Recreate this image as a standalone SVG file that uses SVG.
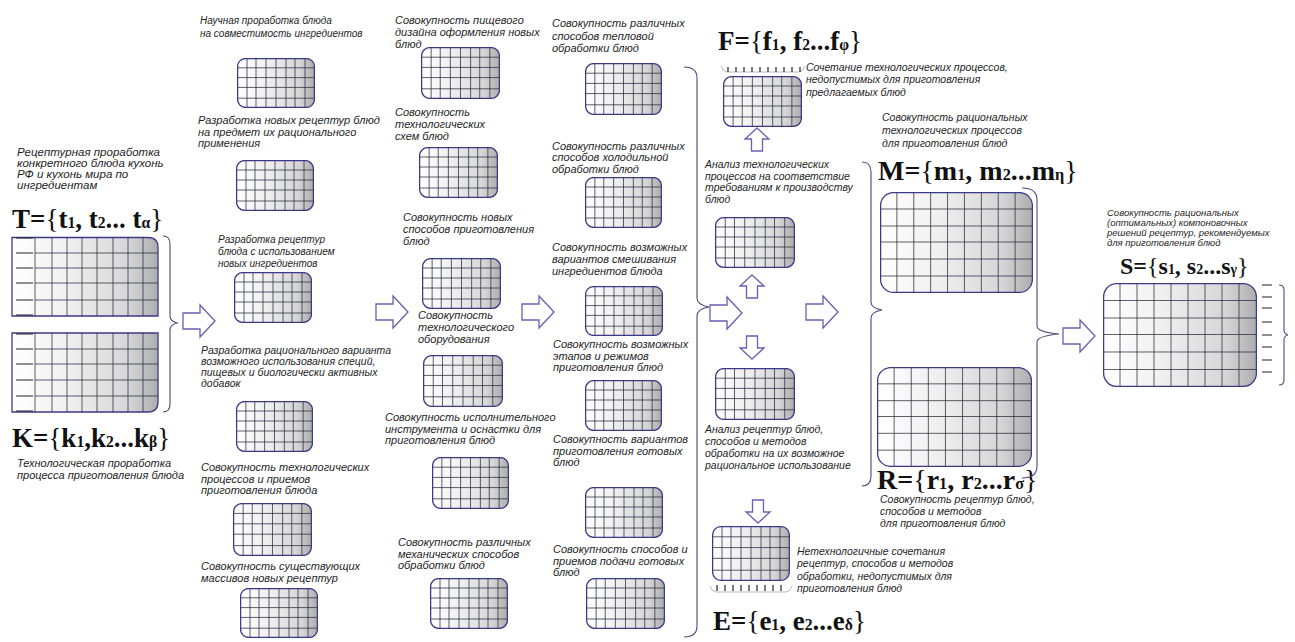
<svg xmlns="http://www.w3.org/2000/svg" xmlns:xlink="http://www.w3.org/1999/xlink" width="1295" height="642" viewBox="0 0 1295 642">
<style>
.t{font-family:"Liberation Sans",Arial,sans-serif;font-style:italic;fill:#1e1e1e;}
.f{font-family:"Liberation Serif","Times New Roman",serif;font-weight:bold;fill:#111;}
.s{font-size:58%;}
.br{font-weight:normal;}
.bd{fill:url(#gr);stroke:#3b3a8a;stroke-width:1.3;}
.gl{stroke:#2a2a3c;stroke-width:0.75;fill:none;}
.ar{fill:#fff;stroke:#6a5fb5;stroke-width:1.3;}
.bc{fill:none;stroke:#4b4b7d;stroke-width:1.1;}
.tk{stroke:#222;stroke-width:1.2;}
.dl{stroke:#9a9aaa;stroke-width:0.7;fill:none;}
</style>
<defs>
<linearGradient id="gr" x1="0" y1="0" x2="1" y2="0">
<stop offset="0" stop-color="#ffffff"/>
<stop offset="0.4" stop-color="#efefef"/>
<stop offset="0.8" stop-color="#d6d6d6"/>
<stop offset="1" stop-color="#adadad"/>
</linearGradient>
<symbol id="sb" viewBox="0 0 78 51" preserveAspectRatio="none">
<rect x="0.6" y="0.6" width="76.8" height="49.8" rx="8" class="bd" vector-effect="non-scaling-stroke"/>
<path class="gl" vector-effect="non-scaling-stroke" d="M10,1V50M19,1V50M29,1V50M39,1V50M49,1V50M58,1V50M68,1V50M1,10H77M1,20H77M1,30H77M1,41H77"/>
</symbol>
<symbol id="bb" viewBox="0 0 154 101" preserveAspectRatio="none">
<rect x="0.6" y="0.6" width="152.8" height="99.8" rx="13" class="bd" vector-effect="non-scaling-stroke"/>
<path class="gl" vector-effect="non-scaling-stroke" d="M17,1V100M34,1V100M51,1V100M68,1V100M85,1V100M102,1V100M119,1V100M136,1V100M1,17H153M1,34H153M1,50H153M1,67H153M1,84H153"/>
</symbol>
<path id="ra" d="M0,-8 H17 V-16 L32,0 L17,16 V8 H0 Z"/>
<path id="ua" d="M0,0 L12,11 H5.5 V23 H-5.5 V11 H-12 Z"/>
<path id="da" d="M0,0 L12,-11 H5.5 V-23 H-5.5 V-11 H-12 Z"/>
<clipPath id="cT"><path d="M12,237.5 H148 Q158,237.5 158,247.5 V316 H12 Z"/></clipPath>
<clipPath id="cK"><path d="M12,333 H158 V402 Q158,412 148,412 H12 Z"/></clipPath>
</defs>
<rect width="1295" height="642" fill="#fff"/>

<g id="node-T">
<text class="t" font-size="11.5"><tspan x="17" y="156">Рецептурная проработка</tspan><tspan x="17" y="167">конкретного блюда кухонь</tspan><tspan x="17" y="178">РФ и кухонь мира по</tspan><tspan x="17" y="189">ингредиентам</tspan></text>
<text class="f" font-size="27" x="12" y="228">T=<tspan class="br">{</tspan>t<tspan class="s">1</tspan>, t<tspan class="s">2</tspan>... t<tspan class="s">α</tspan><tspan class="br">}</tspan></text>
<path d="M12,237.5 H148 Q158,237.5 158,247.5 V316 H12 Z" class="bd"/>
<g clip-path="url(#cT)"><path class="gl" d="M35,237V316M52,237V316M67,237V316M82,237V316M97,237V316M113,237V316M128,237V316M143,237V316M35,253H158M35,268H158M35,283H158M35,300H158"/></g>
<path class="tk" d="M16,238H33M16,253H33M16,268H33M16,283H33M16,300H33M16,315H33"/>
</g>

<g id="node-K">
<path d="M12,333 H158 V402 Q158,412 148,412 H12 Z" class="bd"/>
<g clip-path="url(#cK)"><path class="gl" d="M35,333V412M52,333V412M67,333V412M82,333V412M97,333V412M113,333V412M128,333V412M143,333V412M35,349H158M35,364H158M35,380H158M35,396H158"/></g>
<path class="tk" d="M16,334H33M16,349H33M16,364H33M16,380H33M16,396H33M16,411H33"/>
<text class="f" font-size="27" x="12" y="447">K=<tspan class="br">{</tspan>k<tspan class="s">1</tspan>,k<tspan class="s">2</tspan>...k<tspan class="s">β</tspan><tspan class="br">}</tspan></text>
<text class="t" font-size="11"><tspan x="17" y="467">Технологическая проработка</tspan><tspan x="17" y="479">процесса приготовления блюда</tspan></text>
</g>

<g id="node-c2-1"><text class="t" font-size="10"><tspan x="200" y="24">Научная проработка блюда</tspan><tspan x="200" y="37">на совместимость ингредиентов</tspan></text><use href="#sb" x="237" y="58" width="78" height="50"/></g>
<g id="node-c2-2"><text class="t" font-size="11"><tspan x="198" y="124">Разработка новых рецептур блюд</tspan><tspan x="198" y="136">на предмет их рационального</tspan><tspan x="198" y="147">применения</tspan></text><use href="#sb" x="236" y="160" width="78" height="51"/></g>
<g id="node-c2-3"><text class="t" font-size="10"><tspan x="218" y="243">Разработка рецептур</tspan><tspan x="218" y="255">блюда с использованием</tspan><tspan x="218" y="267">новых ингредиентов</tspan></text><use href="#sb" x="234" y="272" width="78" height="51"/></g>
<g id="node-c2-4"><text class="t" font-size="10.5"><tspan x="201" y="354">Разработка рационального варианта</tspan><tspan x="201" y="365">возможного использования специй,</tspan><tspan x="201" y="376">пищевых и биологически активных</tspan><tspan x="201" y="387">добавок</tspan></text><use href="#sb" x="236" y="401" width="77" height="51"/></g>
<g id="node-c2-5"><text class="t" font-size="11"><tspan x="201" y="471">Совокупность технологических</tspan><tspan x="201" y="483">процессов и приемов</tspan><tspan x="201" y="494">приготовления блюда</tspan></text><use href="#sb" x="233" y="503" width="79" height="53"/></g>
<g id="node-c2-6"><text class="t" font-size="11"><tspan x="201" y="570">Совокупность существующих</tspan><tspan x="201" y="582">массивов новых рецептур</tspan></text><use href="#sb" x="240" y="588" width="78" height="50"/></g>

<g id="node-c3-1"><text class="t" font-size="11"><tspan x="395" y="24">Совокупность пищевого</tspan><tspan x="395" y="36">дизайна оформления новых</tspan><tspan x="395" y="48">блюд</tspan></text><use href="#sb" x="421" y="47" width="79" height="52"/></g>
<g id="node-c3-2"><text class="t" font-size="11"><tspan x="395" y="116">Совокупность</tspan><tspan x="395" y="128">технологических</tspan><tspan x="395" y="140">схем блюд</tspan></text><use href="#sb" x="419" y="147" width="79" height="51"/></g>
<g id="node-c3-3"><text class="t" font-size="11"><tspan x="403" y="221">Совокупность новых</tspan><tspan x="403" y="233">способов приготовления</tspan><tspan x="403" y="245">блюд</tspan></text><use href="#sb" x="422" y="258" width="79" height="51"/></g>
<g id="node-c3-4"><text class="t" font-size="11"><tspan x="418" y="319">Совокупность</tspan><tspan x="418" y="331">технологического</tspan><tspan x="418" y="343">оборудования</tspan></text><use href="#sb" x="423" y="355" width="80" height="52"/></g>
<g id="node-c3-5"><text class="t" font-size="11"><tspan x="385" y="421">Совокупность исполнительного</tspan><tspan x="385" y="433">инструмента и оснастки для</tspan><tspan x="385" y="444">приготовления блюд</tspan></text><use href="#sb" x="432" y="457" width="77" height="52"/></g>
<g id="node-c3-6"><text class="t" font-size="11"><tspan x="398" y="546">Совокупность различных</tspan><tspan x="398" y="558">механических способов</tspan><tspan x="398" y="569">обработки блюд</tspan></text><use href="#sb" x="430" y="578" width="78" height="51"/></g>

<g id="node-c4-1"><text class="t" font-size="11"><tspan x="552" y="27">Совокупность различных</tspan><tspan x="552" y="40">способов тепловой</tspan><tspan x="552" y="52">обработки блюд</tspan></text><use href="#sb" x="585" y="63" width="77" height="52"/></g>
<g id="node-c4-2"><text class="t" font-size="11"><tspan x="552" y="150">Совокупность различных</tspan><tspan x="552" y="161">способов холодильной</tspan><tspan x="552" y="173">обработки блюд</tspan></text><use href="#sb" x="585" y="177" width="77" height="51"/></g>
<g id="node-c4-3"><text class="t" font-size="11"><tspan x="552" y="251">Совокупность возможных</tspan><tspan x="552" y="263">вариантов смешивания</tspan><tspan x="552" y="275">ингредиентов блюда</tspan></text><use href="#sb" x="585" y="286" width="78" height="50"/></g>
<g id="node-c4-4"><text class="t" font-size="11"><tspan x="553" y="348">Совокупность возможных</tspan><tspan x="553" y="360">этапов  и режимов</tspan><tspan x="553" y="371">приготовления блюд</tspan></text><use href="#sb" x="585" y="380" width="77" height="51"/></g>
<g id="node-c4-5"><text class="t" font-size="11"><tspan x="553" y="443">Совокупность вариантов</tspan><tspan x="553" y="455">приготовления готовых</tspan><tspan x="553" y="466">блюд</tspan></text><use href="#sb" x="585" y="487" width="78" height="51"/></g>
<g id="node-c4-6"><text class="t" font-size="11"><tspan x="553" y="553">Совокупность способов и</tspan><tspan x="553" y="565">приемов подачи готовых</tspan><tspan x="553" y="576">блюд</tspan></text><use href="#sb" x="586" y="578" width="79" height="51"/></g>

<g id="node-F">
<text class="f" font-size="27" x="718" y="50">F=<tspan class="br">{</tspan>f<tspan class="s">1</tspan>, f<tspan class="s">2</tspan>...f<tspan class="s">φ</tspan><tspan class="br">}</tspan></text>
<path class="dl" d="M721,66 Q723,72 727,72 H799 Q803,72 805,66"/>
<path class="tk" stroke-width="1" d="M728,67V72M736,67V72M744,67V72M752,67V72M760,67V72M768,67V72M776,67V72M784,67V72M792,67V72M800,67V72"/>
<text class="t" font-size="10.5"><tspan x="806" y="71">Сочетание технологических процессов,</tspan><tspan x="806" y="83">недопустимых для приготовления</tspan><tspan x="806" y="96">предлагаемых блюд</tspan></text>
<use href="#sb" x="723" y="76" width="79" height="51"/>
</g>
<g id="node-A1">
<text class="t" font-size="10.5"><tspan x="705" y="168">Анализ технологических</tspan><tspan x="705" y="180">процессов на соответствие</tspan><tspan x="705" y="191">требованиям к производству</tspan><tspan x="705" y="203">блюд</tspan></text>
<use href="#sb" x="715" y="217" width="80" height="51"/>
</g>
<g id="node-A2">
<use href="#sb" x="715" y="368" width="80" height="52"/>
<text class="t" font-size="10.5"><tspan x="705" y="433">Анализ рецептур блюд,</tspan><tspan x="705" y="445">способов и методов</tspan><tspan x="705" y="457">обработки на их возможное</tspan><tspan x="705" y="469">рациональное использование</tspan></text>
</g>
<g id="node-E">
<use href="#sb" x="712" y="526" width="78" height="55"/>
<path class="tk" stroke-width="1" d="M717,585V591M725,585V591M733,585V591M741,585V591M749,585V591M757,585V591M765,585V591M773,585V591M781,585V591"/>
<path class="dl" d="M710,586 Q712,592 716,592 H786 Q790,592 792,586"/>
<text class="t" font-size="10.5"><tspan x="797" y="555">Нетехнологичные сочетания</tspan><tspan x="797" y="567">рецептур, способов и методов</tspan><tspan x="797" y="580">обработки, недопустимых для</tspan><tspan x="797" y="592">приготовления блюд</tspan></text>
<text class="f" font-size="27" x="713" y="630">E=<tspan class="br">{</tspan>e<tspan class="s">1</tspan>, e<tspan class="s">2</tspan>...e<tspan class="s">δ</tspan><tspan class="br">}</tspan></text>
</g>

<g id="node-M">
<text class="t" font-size="10.5"><tspan x="882" y="121">Совокупность рациональных</tspan><tspan x="882" y="134">технологических процессов</tspan><tspan x="882" y="147">для приготовления блюд</tspan></text>
<text class="f" font-size="28" x="878" y="180">M=<tspan class="br">{</tspan>m<tspan class="s">1</tspan>, m<tspan class="s">2</tspan>...m<tspan class="s">η</tspan><tspan class="br">}</tspan></text>
<use href="#bb" x="880" y="192" width="153" height="101"/>
</g>
<g id="node-R">
<use href="#bb" x="877" y="367" width="155" height="100"/>
<text class="f" font-size="28" x="877" y="489">R=<tspan class="br">{</tspan>r<tspan class="s">1</tspan>, r<tspan class="s">2</tspan>...r<tspan class="s">σ</tspan><tspan class="br">}</tspan></text>
<text class="t" font-size="10.5"><tspan x="880" y="503">Совокупность рецептур блюд,</tspan><tspan x="880" y="515">способов и методов</tspan><tspan x="880" y="527">для приготовления блюд</tspan></text>
</g>
<g id="node-S">
<text class="t" font-size="9.5"><tspan x="1107" y="216">Совокупность рациональных</tspan><tspan x="1107" y="226">(оптимальных) компоновочных</tspan><tspan x="1107" y="236">решений рецептур, рекомендуемых</tspan><tspan x="1107" y="246">для приготовления блюд</tspan></text>
<text class="f" font-size="24" x="1120" y="274">S=<tspan class="br">{</tspan>s<tspan class="s">1</tspan>, s<tspan class="s">2</tspan>...s<tspan class="s">γ</tspan><tspan class="br">}</tspan></text>
<use href="#bb" x="1103" y="283" width="154" height="104"/>
<path class="tk" d="M1262,285H1272M1262,297H1272M1262,308H1272M1262,322H1272M1262,335H1272M1262,347H1272M1262,360H1272M1262,372H1272"/>
<path class="bc" d="M1279,285 Q1284,285 1284,290 V330 Q1284,334 1288,335 Q1284,336 1284,340 V380 Q1284,385 1279,385"/>
</g>

<g id="connectors">
<path class="bc" d="M163,236 Q170,236 170,244 V316 Q170,321 177,323 Q170,325 170,330 V404 Q170,412 163,412"/>
<path class="bc" d="M684,67 Q697,67 697,78 V298 Q697,305 709,307 Q697,309 697,316 V626 Q697,637 684,637"/>
<path class="bc" d="M862,162 Q871,162 871,172 V302 Q871,308 882,310 Q871,312 871,318 V476 Q871,486 862,486"/>
<path class="bc" d="M1022,188 Q1037,188 1037,200 V326 Q1037,332 1059,334 Q1037,336 1037,342 V466 Q1037,478 1022,478"/>
<use href="#ra" class="ar" x="183" y="321"/>
<use href="#ra" class="ar" x="376" y="312"/>
<use href="#ra" class="ar" x="522" y="312"/>
<use href="#ra" class="ar" x="710" y="313"/>
<use href="#ra" class="ar" x="806" y="312"/>
<use href="#ra" class="ar" x="1063" y="336"/>
<use href="#ua" class="ar" x="757" y="128"/>
<use href="#ua" class="ar" x="752" y="275"/>
<use href="#da" class="ar" x="752" y="359"/>
<use href="#da" class="ar" x="758" y="523"/>
</g>
</svg>
